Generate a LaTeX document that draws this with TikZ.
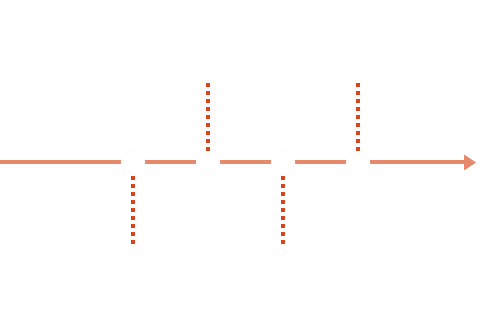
\documentclass[tikz,border=0pt]{standalone}
\usetikzlibrary{arrows.meta}
\definecolor{axisc}{HTML}{E6896A}
\definecolor{dotc}{HTML}{D9441A}
\begin{document}
\begin{tikzpicture}[x=1pt,y=-1pt,
  axis/.style={draw=axisc,line width=4pt,-{Triangle[length=12pt,width=15pt]}},
  gapc/.style={circle,fill=white,draw=black!2,line width=0.4pt,minimum size=24pt,inner sep=0pt},
  dotline/.style={draw=dotc,line width=4pt,dash pattern=on 4pt off 4pt}]
\useasboundingbox (0,0) rectangle (500,336);
\coordinate (s) at (0,162.5);
\coordinate (e) at (476,162.5);
\draw[axis] (s) -- (e);
\node[gapc] (c1) at (133,162.5) {};
\node[gapc] (c2) at (208,162.5) {};
\node[gapc] (c3) at (283,162.5) {};
\node[gapc] (c4) at (358,162.5) {};
\coordinate (d1a) at (133,176);
\coordinate (d1b) at (133,244);
\coordinate (d2a) at (208,151);
\coordinate (d2b) at (208,83);
\coordinate (d3a) at (283,176);
\coordinate (d3b) at (283,244);
\coordinate (d4a) at (358,151);
\coordinate (d4b) at (358,83);
\draw[dotline] (d1a) -- (d1b);
\draw[dotline] (d2a) -- (d2b);
\draw[dotline] (d3a) -- (d3b);
\draw[dotline] (d4a) -- (d4b);
\end{tikzpicture}
\end{document}
